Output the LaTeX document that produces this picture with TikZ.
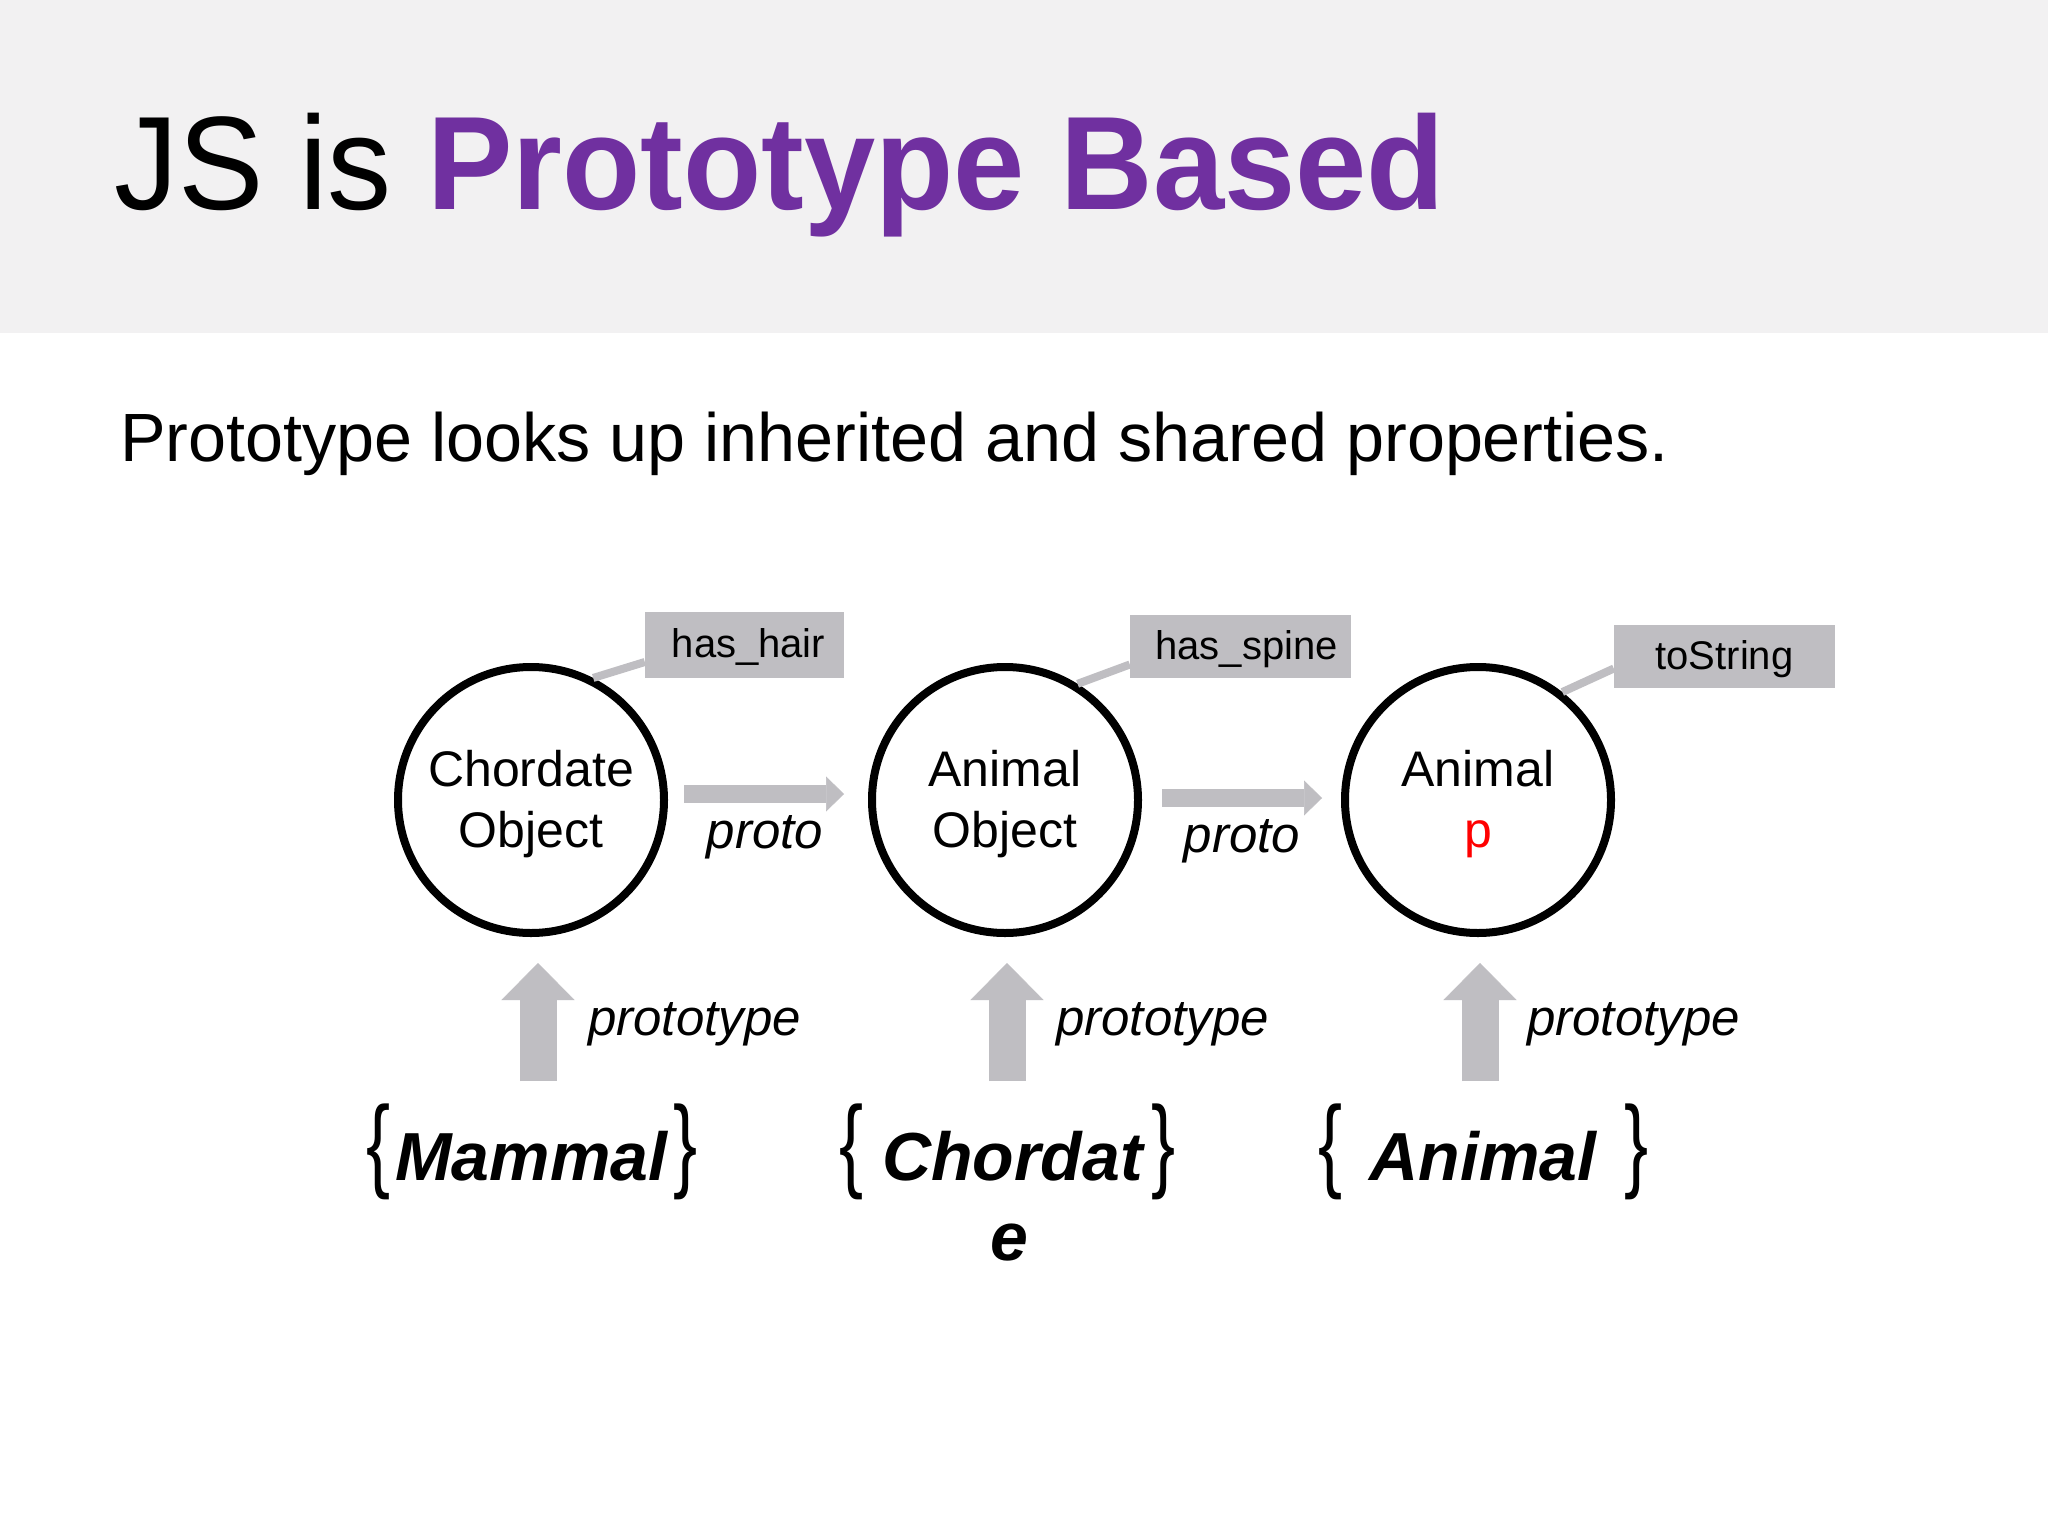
\documentclass[tikz,border=0pt]{standalone}
\usepackage{fontspec}
\setmainfont{Liberation Sans}
\newfontfamily\titlefont{Liberation Sans}[FakeStretch=0.963]
\usetikzlibrary{arrows.meta,calc}
\definecolor{bandgray}{RGB}{242,241,242}
\definecolor{titlepurple}{RGB}{112,48,160}
\definecolor{pgray}{RGB}{191,190,194}
\newcommand{\lbr}{{\fontsize{103}{103}\selectfont\mdseries\upshape\raisebox{2pt}{\scalebox{0.7}[1]{\{}}}}
\newcommand{\rbr}{{\fontsize{103}{103}\selectfont\mdseries\upshape\raisebox{2pt}{\scalebox{0.7}[1]{\}}}}}
\tikzset{
  obj/.style={circle,draw=black,line width=8pt,fill=white,minimum size=266pt,inner sep=0pt,align=center,font=\fontsize{50}{61}\selectfont},
  prop/.style={fill=pgray,inner sep=0pt,text height=30pt,text depth=5pt,font=\fontsize{40}{48}\selectfont},
  link/.style={draw=pgray,line width=8pt},
  harr/.style={draw=pgray,line width=18pt,-{Triangle[width=35pt,length=18pt,line width=0.5pt]}},
  uarr/.style={draw=pgray,line width=37pt,-{Triangle[width=73pt,length=37pt,line width=0.5pt]}},
  lbl/.style={font=\fontsize{51}{60}\selectfont\itshape,inner sep=0pt},
  blabel/.style={font=\fontsize{68}{80}\selectfont\bfseries\itshape,inner sep=0pt,anchor=north,align=center}
}
\begin{document}
\begin{tikzpicture}[x=1pt,y=-1pt]
\useasboundingbox (0,0) rectangle (2048,1536);
\fill[white] (0,0) rectangle (2048,1536);
\fill[bandgray] (0,0) rectangle (2048,333);

\node[anchor=base west,inner sep=0pt,font=\titlefont\fontsize{133}{140}\selectfont] (title) at (114,209)
  {JS is \textcolor{titlepurple}{\bfseries Prototype Based}};
\node[anchor=base west,inner sep=0pt,font=\fontsize{68.3}{80}\selectfont] (sub) at (120,461)
  {Prototype looks up inherited and shared properties.};

% property boxes
\node[prop,minimum width=199pt,minimum height=66pt] (h1) at (744.5,645) {\hspace*{8pt}has\_hair};
\node[prop,minimum width=221pt,minimum height=63pt] (h2) at (1240.5,646.5) {\hspace*{12pt}has\_spine};
\node[prop,minimum width=221pt,minimum height=63pt] (h3) at (1724.5,656.5) {toString};

% object circles
\node[obj] (c1) at (531,800) {\rule{0pt}{45pt}Chordate\\Object};
\node[obj] (c2) at (1005,800) {\rule{0pt}{45pt}Animal\\Object};
\node[obj] (c3) at (1478,800) {\rule{0pt}{45pt}Animal\\\textcolor{red}{p}};

% links to property boxes
\draw[link] (c1.63) -- ($(h1.west)+(0,17)$);
\draw[link] (c2.58) -- ($(h2.west)+(0,18)$);
\draw[link] (c3.52) -- ($(h3.west)+(0,12)$);

% proto arrows
\draw[harr] ([xshift=16pt,yshift=6pt]c1.east) -- ([xshift=-24pt,yshift=6pt]c2.west);
\draw[harr] ([xshift=20pt,yshift=2pt]c2.east) -- ([xshift=-19pt,yshift=2pt]c3.west);
\node[lbl,anchor=base] (p1) at (765,848) {proto};
\node[lbl,anchor=base] (p2) at (1242,852) {proto};

% constructor labels
\node[blabel] (b1) at (532,1104) {\lbr\kern5pt Mammal\kern6.5pt\rbr};
\node[blabel] (b2) at (1007.5,1104) {\lbr\kern19pt Chordat\kern9pt\rbr\\\kern4pt e};
\node[blabel] (b3) at (1483.5,1104) {\lbr\kern27pt Animal\kern28pt\rbr};

% prototype arrows
\draw[uarr,shorten <=23pt,shorten >=26pt] ([xshift=6pt]b1.north) -- ([xshift=6pt]b1.north |- c1.south);
\draw[uarr,shorten <=23pt,shorten >=26pt] ([xshift=-0.5pt]b2.north) -- ([xshift=-0.5pt]b2.north |- c2.south);
\draw[uarr,shorten <=23pt,shorten >=26pt] ([xshift=-3.5pt]b3.north) -- ([xshift=-3.5pt]b3.north |- c3.south);
\node[lbl,anchor=base west] (t1) at (588,1035) {prototype};
\node[lbl,anchor=base west] (t2) at (1056,1035) {prototype};
\node[lbl,anchor=base west] (t3) at (1527,1035) {prototype};
\end{tikzpicture}
\end{document}
